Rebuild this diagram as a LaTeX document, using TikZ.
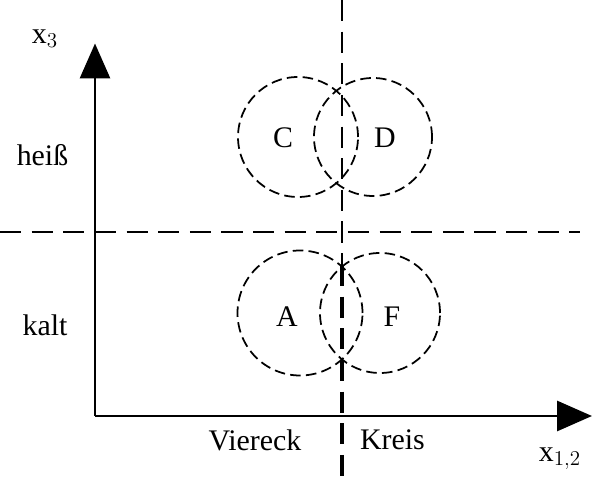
\documentclass[tikz,border=0pt]{standalone}
\usepackage{fontspec}
\setmainfont{Liberation Serif}
\usetikzlibrary{arrows.meta}
\tikzset{
  every picture/.style={font=\fontsize{17}{19}\selectfont},
  axis/.style={line width=1.7pt, -{Triangle[length=7mm, width=6mm]}},
  divider/.style={dashed, line width=1pt, dash pattern=on 12pt off 6pt},
  thickdiv/.style={line width=2.4pt, dash pattern=on 12pt off 6pt},
  region/.style={circle, draw, dashed, line width=1pt, dash pattern=on 6pt off 3pt, inner sep=0pt},
  tag/.style={inner sep=1pt},
}
\begin{document}
\begin{tikzpicture}
  \useasboundingbox (0,0) rectangle (11.84,9.62);
  % axes
  \coordinate (orig) at (1.9,1.3);
  \coordinate (ytip) at (1.9,8.75);
  \coordinate (xtip) at (11.84,1.3);
  \draw[axis] (orig) -- (ytip);
  \draw[axis] (orig) -- (xtip);
  \node[tag] (xthree) at (0.9,8.85) {x$_3$};
  \node[tag] (xonetwo) at (11.2,0.45) {x$_{1,2}$};
  % dividing lines
  \coordinate (hleft) at (0,4.98);
  \coordinate (hright) at (11.6,4.98);
  \draw[divider] (hleft) -- (hright);
  \coordinate (vtop) at (6.84,9.62);
  \coordinate (vmid) at (6.84,4.32);
  \coordinate (vbot) at (6.84,0);
  \draw[divider] (vtop) -- (vmid);
  \draw[thickdiv] (vmid) -- (vbot);
  % axis labels
  \node[tag] (hot) at (0.85,6.52) {heiß};
  \node[tag] (cold) at (0.9,3.12) {kalt};
  \node[tag] (square) at (5.1,0.82) {Viereck};
  \node[tag] (round) at (7.85,0.82) {Kreis};
  % upper pair
  \node[region, minimum size=2.4cm] (circC) at (5.96,6.88) {};
  \node[region, minimum size=2.36cm] (circD) at (7.46,6.88) {};
  \node[tag] (C) at (5.66,6.86) {C};
  \node[tag] (D) at (7.7,6.86) {D};
  % lower pair
  \node[region, minimum size=2.5cm] (circA) at (6.0,3.36) {};
  \node[region, minimum size=2.4cm] (circF) at (7.6,3.36) {};
  \node[tag] (A) at (5.74,3.28) {A};
  \node[tag] (F) at (7.84,3.28) {F};
\end{tikzpicture}
\end{document}
